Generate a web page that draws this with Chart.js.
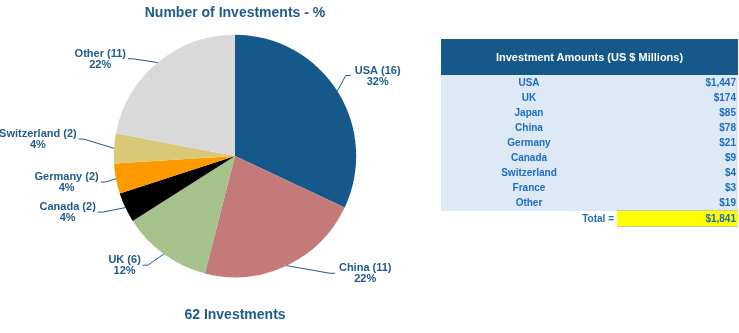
<!DOCTYPE html>
<html lang="en">
<head>
  <meta charset="UTF-8" />
  <title>Number of Investments</title>
  <script src="https://cdn.jsdelivr.net/npm/chart.js"></script>
  <style>
    body {
      margin: 0;
      width: 739px;
      height: 333px;
      background: #fff;
      font-family: 'Liberation Sans', Arial, sans-serif;
      position: relative;
      overflow: hidden;
    }
    #pie-box {
      position: absolute;
      left: 0;
      top: 0;
      width: 470px;
      height: 333px;
    }
    #amounts {
      position: absolute;
      left: 441px;
      top: 39px;
      width: 297px;
      border-collapse: collapse;
      font-size: 10px;
      font-weight: bold;
      color: #1c6dc0;
    }
    #amounts th {
      background: #15588a;
      color: #fff;
      height: 36px;
      padding: 0;
      font-size: 11px;
    }
    #amounts td {
      height: 15px;
      padding: 0;
      line-height: 15px;
    }
    #amounts tbody td { background: #dde9f5; }
    #amounts td.name { text-align: center; width: 176px; }
    #amounts td.val { text-align: right; padding-right: 2px; }
    #amounts tfoot td.lbl { text-align: right; padding-right: 3px; background: #fff; }
    #amounts tfoot td.tot {
      text-align: right;
      padding-right: 2px;
      background: #ffff00;
      border-top: 1px solid #c8c8b0;
      border-bottom: 1px solid #c8c8b0;
    }
  </style>
</head>
<body>
<div id="pie-box"><canvas id="pie"></canvas></div>

<table id="amounts">
  <thead>
    <tr><th colspan="2">Investment Amounts (US $ Millions)</th></tr>
  </thead>
  <tbody></tbody>
  <tfoot>
    <tr><td class="lbl">Total =</td><td class="tot" id="total"></td></tr>
  </tfoot>
</table>

<script>
  // pie data
  const countries = ["USA", "China", "UK", "Canada", "Germany", "Switzerland", "Other"];
  const counts = [16, 11, 6, 2, 2, 2, 11];
  const percents = [32, 22, 12, 4, 4, 4, 22];

  // table data
  const amountCountries = ["USA", "UK", "Japan", "China", "Germany", "Canada", "Switzerland", "France", "Other"];
  const amounts = ["$1,447", "$174", "$85", "$78", "$21", "$9", "$4", "$3", "$19"];
  const totalAmount = "$1,841";

  const sliceColors = ["#15588a", "#c47a78", "#a5c28b", "#000000", "#ff9900", "#d9c878", "#d9d9d9"];
  const textBlue = "#1f5b8c";

  // where each label's leader line bends: angle clockwise from top (deg), distance as radius factor
  const labelBends = [
    { a: 54, f: 1.13, side: 1 },
    { a: 141, f: 1.245, side: 1 },
    { a: 218.6, f: 1.153, side: -1 },
    { a: 247, f: 1.185, side: -1 },
    { a: 258.6, f: 1.088, side: -1 },
    { a: 276.4, f: 1.256, side: -1 },
    { a: 313.6, f: 1.163, side: -1 }
  ];

  const tbody = document.querySelector("#amounts tbody");
  amountCountries.forEach((c, i) => {
    tbody.insertAdjacentHTML("beforeend",
      `<tr><td class="name">${c}</td><td class="val">${amounts[i]}</td></tr>`);
  });
  document.getElementById("total").textContent = totalAmount;

  const leaderLabels = {
    id: "leaderLabels",
    afterDatasetsDraw(chart) {
      const ctx = chart.ctx;
      const arcs = chart.getDatasetMeta(0).data;
      ctx.save();
      ctx.strokeStyle = textBlue;
      ctx.fillStyle = textBlue;
      ctx.lineWidth = 1;
      ctx.font = "bold 11px 'Liberation Sans', Arial, sans-serif";
      ctx.textBaseline = "middle";
      arcs.forEach((arc, i) => {
        const p = arc.getProps(["x", "y", "startAngle", "endAngle", "outerRadius"], true);
        const mid = (p.startAngle + p.endAngle) / 2;
        const sx = p.x + Math.cos(mid) * p.outerRadius;
        const sy = p.y + Math.sin(mid) * p.outerRadius;
        const b = labelBends[i];
        const ang = b.a * Math.PI / 180 - Math.PI / 2;
        const bx = p.x + Math.cos(ang) * p.outerRadius * b.f;
        const by = p.y + Math.sin(ang) * p.outerRadius * b.f;
        const ex = bx + 5 * b.side;
        ctx.beginPath();
        ctx.moveTo(sx, sy);
        ctx.lineTo(bx, by);
        ctx.lineTo(ex, by);
        ctx.stroke();

        const line1 = `${countries[i]} (${counts[i]})`;
        const line2 = `${percents[i]}%`;
        const w = ctx.measureText(line1).width;
        const cx = b.side > 0 ? ex + 4 + w / 2 : ex - 2 - w / 2;
        ctx.textAlign = "center";
        ctx.fillText(line1, cx, by - 5);
        ctx.fillText(line2, cx, by + 6);
      });
      ctx.restore();
    }
  };

  new Chart(document.getElementById("pie"), {
    type: "pie",
    data: {
      labels: countries,
      datasets: [{
        data: counts,
        backgroundColor: sliceColors,
        borderWidth: 0
      }]
    },
    options: {
      responsive: true,
      maintainAspectRatio: false,
      animation: false,
      layout: { padding: 0 },
      plugins: {
        legend: { display: false },
        tooltip: { enabled: false },
        title: {
          display: true,
          text: "Number of Investments - %",
          color: textBlue,
          font: { family: "'Liberation Sans', Arial, sans-serif", size: 14, weight: "bold" },
          padding: { top: 5, bottom: 13 }
        },
        subtitle: {
          display: true,
          position: "bottom",
          text: "62 Investments",
          color: textBlue,
          font: { family: "'Liberation Sans', Arial, sans-serif", size: 14, weight: "bold" },
          padding: { top: 30, bottom: 9 }
        }
      }
    },
    plugins: [leaderLabels]
  });
</script>
</body>
</html>
